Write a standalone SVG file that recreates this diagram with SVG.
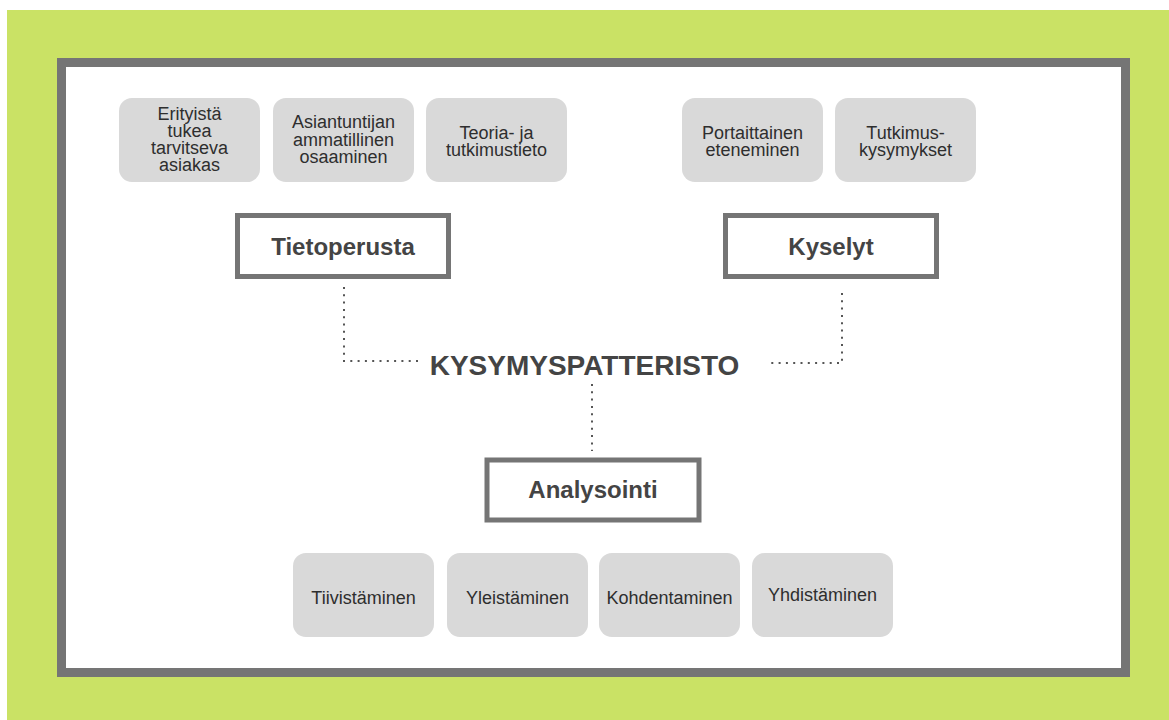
<svg xmlns="http://www.w3.org/2000/svg" width="1169" height="720" viewBox="0 0 1169 720">
<style>
.soft{fill:#d9d9d9;}
.st{font-family:"Liberation Sans",Arial,sans-serif;font-size:18px;fill:#2e2e2e;text-anchor:middle;}
.hd{fill:#ffffff;stroke:#757575;stroke-width:5;}
.ht{font-family:"Liberation Sans",Arial,sans-serif;font-size:24px;font-weight:bold;fill:#444444;text-anchor:middle;}
.con{fill:none;stroke:#555555;stroke-width:2;stroke-dasharray:2 5.3;stroke-linecap:butt;}
</style>
<rect x="0" y="0" width="1169" height="720" fill="#ffffff"/>
<rect x="7" y="10" width="1162" height="710" fill="#cae265"/>
<rect x="61.5" y="62.5" width="1064" height="610" fill="#ffffff" stroke="#757575" stroke-width="9"/>

<g id="connectors">
<path class="con" d="M344,287 V361 H418"/>
<path class="con" d="M842,293 V363 H766"/>
<path class="con" d="M592,384 V451"/>
</g>

<g id="n-erityista">
<rect class="soft" x="119" y="98" width="141" height="84" rx="13"/>
<text class="st" x="189.5" y="119.5">Erityistä</text>
<text class="st" x="189.5" y="136.5">tukea</text>
<text class="st" x="189.5" y="153.5">tarvitseva</text>
<text class="st" x="189.5" y="170.5">asiakas</text>
</g>
<g id="n-asiantuntijan">
<rect class="soft" x="273" y="98" width="141" height="84" rx="13"/>
<text class="st" x="343.5" y="128">Asiantuntijan</text>
<text class="st" x="343.5" y="145.5">ammatillinen</text>
<text class="st" x="343.5" y="163">osaaminen</text>
</g>
<g id="n-teoria">
<rect class="soft" x="426" y="98" width="141" height="84" rx="13"/>
<text class="st" x="496.5" y="138.5">Teoria- ja</text>
<text class="st" x="496.5" y="155.5">tutkimustieto</text>
</g>
<g id="n-portaittainen">
<rect class="soft" x="682" y="98" width="141" height="84" rx="13"/>
<text class="st" x="752.5" y="138.5">Portaittainen</text>
<text class="st" x="752.5" y="155.5">eteneminen</text>
</g>
<g id="n-tutkimus">
<rect class="soft" x="835" y="98" width="141" height="84" rx="13"/>
<text class="st" x="905.5" y="138.5">Tutkimus-</text>
<text class="st" x="905.5" y="155.5">kysymykset</text>
</g>

<g id="n-tietoperusta">
<rect class="hd" x="237.5" y="215.5" width="211" height="61"/>
<text class="ht" x="343" y="254.5">Tietoperusta</text>
</g>
<g id="n-kyselyt">
<rect class="hd" x="725.5" y="215.5" width="211" height="61"/>
<text class="ht" x="831" y="254.5">Kyselyt</text>
</g>

<g id="n-kysymyspatteristo">
<text x="584.5" y="375" font-family="Liberation Sans, Arial, sans-serif" font-size="28" font-weight="bold" fill="#444444" text-anchor="middle">KYSYMYSPATTERISTO</text>
</g>

<g id="n-analysointi">
<rect class="hd" x="487" y="460" width="212" height="60" stroke-width="6"/>
<text class="ht" x="593" y="498">Analysointi</text>
</g>

<g id="n-tiivistaminen">
<rect class="soft" x="293" y="553" width="141" height="84" rx="13"/>
<text class="st" x="363.5" y="603.5">Tiivistäminen</text>
</g>
<g id="n-yleistaminen">
<rect class="soft" x="447" y="553" width="141" height="84" rx="13"/>
<text class="st" x="517.5" y="603.5">Yleistäminen</text>
</g>
<g id="n-kohdentaminen">
<rect class="soft" x="599" y="553" width="141" height="84" rx="13"/>
<text class="st" x="669.5" y="603.5">Kohdentaminen</text>
</g>
<g id="n-yhdistaminen">
<rect class="soft" x="752" y="553" width="141" height="84" rx="13"/>
<text class="st" x="822.5" y="601">Yhdistäminen</text>
</g>
</svg>
